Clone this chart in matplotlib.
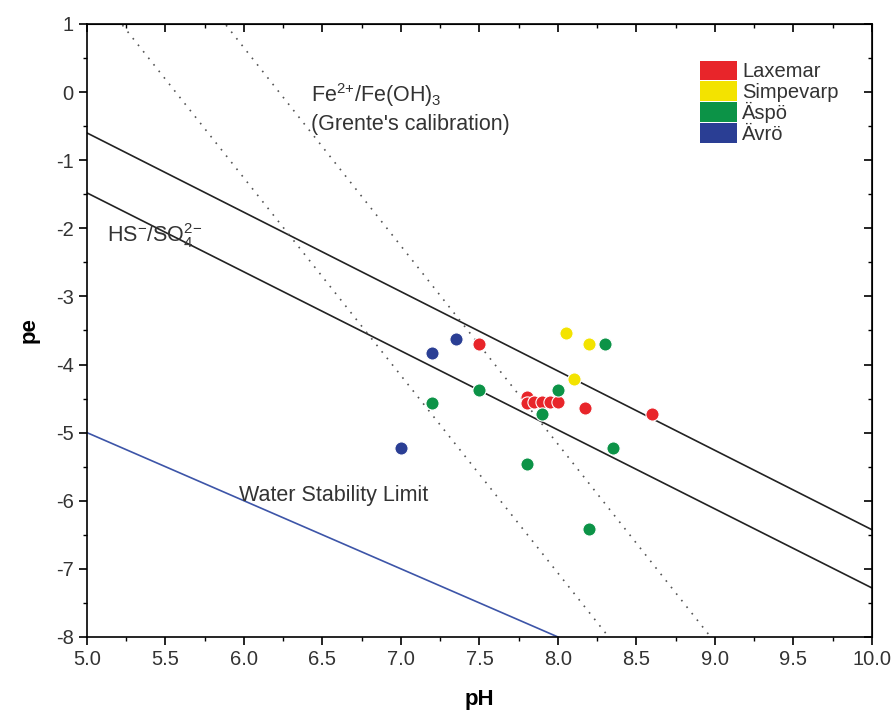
import matplotlib.pyplot as plt
import numpy as np
from matplotlib.patches import Patch
from matplotlib.ticker import MultipleLocator

plt.rcParams["font.family"] = ["Liberation Sans", "DejaVu Sans"]
plt.rcParams["mathtext.fontset"] = "custom"
plt.rcParams["mathtext.rm"] = "Liberation Sans"
plt.rcParams["mathtext.it"] = "Liberation Sans:italic"
plt.rcParams["mathtext.bf"] = "Liberation Sans:bold"

# sample points (pH, pe) per site
laxemar_ph = [7.50, 7.80, 7.80, 7.85, 7.90, 7.95, 8.00, 8.17, 8.60]
laxemar_pe = [-3.70, -4.47, -4.56, -4.55, -4.55, -4.55, -4.55, -4.64, -4.73]

simpevarp_ph = [8.05, 8.20, 8.10]
simpevarp_pe = [-3.54, -3.70, -4.21]

aspo_ph = [8.30, 8.00, 7.50, 7.20, 7.90, 8.35, 7.80, 8.20]
aspo_pe = [-3.70, -4.38, -4.38, -4.56, -4.73, -5.23, -5.46, -6.42]

avro_ph = [7.35, 7.20, 7.00]
avro_pe = [-3.63, -3.83, -5.23]

# reference lines: (pH0, pe0, slope)
hs_upper = (5.0, -0.60, -1.165)
hs_lower = (5.0, -1.48, -1.16)
fe_left = (5.22, 1.0, -2.90)
fe_right = (5.88, 1.0, -2.91)
water_limit = (5.0, -5.0, -1.0)

site_colors = {
    "Laxemar": "#e8252a",
    "Simpevarp": "#f3e300",
    "Äspö": "#0c9347",
    "Ävrö": "#2a3e94",
}

figure = plt.figure(figsize=(8.94, 7.2), dpi=100)
axes = figure.add_axes([0.0973, 0.1153, 0.878, 0.8514])

ph = np.array([5.0, 10.0])


def line(params):
    x0, y0, slope = params
    return y0 + slope * (ph - x0)


axes.plot(ph, line(hs_upper), color="#222222", lw=1.2)
axes.plot(ph, line(hs_lower), color="#222222", lw=1.2)
axes.plot(ph, line(fe_left), color="#555555", lw=1.2, linestyle=(0, (1, 4)))
axes.plot(ph, line(fe_right), color="#555555", lw=1.2, linestyle=(0, (1, 4)))
axes.plot(ph, line(water_limit), color="#3d55a8", lw=1.2)

for name, xs, ys in [
    ("Laxemar", laxemar_ph, laxemar_pe),
    ("Simpevarp", simpevarp_ph, simpevarp_pe),
    ("Äspö", aspo_ph, aspo_pe),
    ("Ävrö", avro_ph, avro_pe),
]:
    axes.scatter(xs, ys, s=90, color=site_colors[name],
                 edgecolor="white", linewidth=0.8, zorder=3)

text_color = "#333333"
axes.text(6.43, -0.15, r"Fe$^{2{+}}$/Fe(OH)$_3$", fontsize=15.5, color=text_color)
axes.text(6.43, -0.55, "(Grente's calibration)", fontsize=15.5, color=text_color)
axes.text(5.13, -2.2, r"HS$^{-}$/SO$_4^{2{-}}$", fontsize=15.5, color=text_color)
axes.text(5.97, -6.0, "Water Stability Limit", fontsize=15.5, color=text_color)

handles = [Patch(facecolor=c, edgecolor="none", label=n)
           for n, c in site_colors.items()]
axes.legend(handles=handles, loc="upper left", bbox_to_anchor=(0.781, 0.94),
            frameon=False, fontsize=14.5, handlelength=1.85, handleheight=1.12,
            labelspacing=0.0, handletextpad=0.25, borderpad=0.0,
            borderaxespad=0.0)
for t in axes.get_legend().get_texts():
    t.set_color(text_color)

axes.set_xlim(5.0, 10.0)
axes.set_ylim(-8, 1)
axes.xaxis.set_major_locator(MultipleLocator(0.5))
axes.xaxis.set_minor_locator(MultipleLocator(0.25))
axes.yaxis.set_major_locator(MultipleLocator(1))
axes.yaxis.set_minor_locator(MultipleLocator(0.5))
axes.xaxis.set_major_formatter(plt.FormatStrFormatter("%.1f"))
axes.yaxis.set_major_formatter(plt.FormatStrFormatter("%d"))
axes.tick_params(which="major", direction="out", length=6, width=1.2,
                 labelsize=14.5, labelcolor=text_color)
axes.tick_params(which="minor", direction="out", length=3, width=1.0)

top = axes.secondary_xaxis("top")
top.xaxis.set_major_locator(MultipleLocator(0.5))
top.xaxis.set_minor_locator(MultipleLocator(0.25))
top.tick_params(which="major", direction="in", length=6, width=1.2, labeltop=False)
top.tick_params(which="minor", direction="in", length=3, width=1.0)

right = axes.secondary_yaxis("right")
right.yaxis.set_major_locator(MultipleLocator(1))
right.yaxis.set_minor_locator(MultipleLocator(0.5))
right.tick_params(which="major", direction="in", length=6, width=1.2, labelright=False)
right.tick_params(which="minor", direction="in", length=3, width=1.0)

for spine in axes.spines.values():
    spine.set_linewidth(1.2)

axes.set_xlabel("pH", fontsize=16, fontweight="bold", labelpad=14)
axes.set_ylabel("pe", fontsize=16, fontweight="bold", labelpad=12)

figure.savefig("out.png", dpi=100)
